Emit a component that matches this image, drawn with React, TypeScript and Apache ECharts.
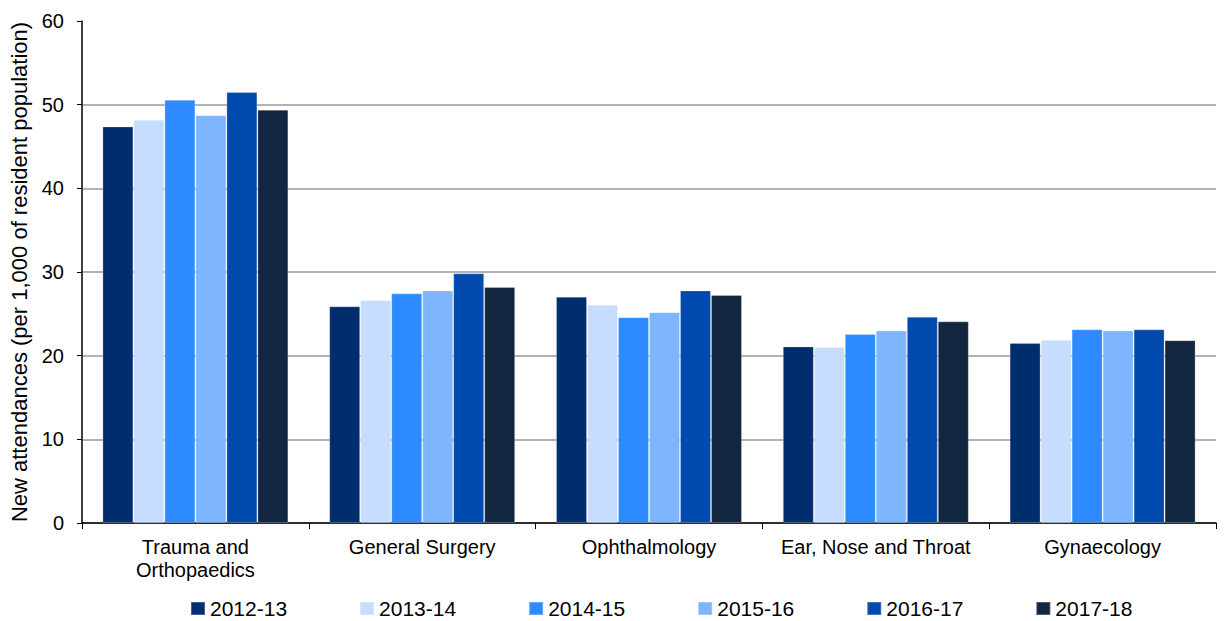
import React, { useEffect, useRef } from "react";
import * as echarts from "echarts";

const categories = ["Trauma and\nOrthopaedics", "General Surgery", "Ophthalmology", "Ear, Nose and Throat", "Gynaecology"];
const years = ["2012-13", "2013-14", "2014-15", "2015-16", "2016-17", "2017-18"];
const colors = ["#002D6E", "#C6DDFF", "#2E8BFF", "#7EB5FF", "#004AAD", "#12263F"];
const v2012 = [47.4, 25.9, 27.05, 21.1, 21.5];
const v2013 = [48.2, 26.65, 26.1, 21.05, 21.9];
const v2014 = [50.6, 27.45, 24.6, 22.6, 23.15];
const v2015 = [48.75, 27.8, 25.2, 23.0, 23.0];
const v2016 = [51.5, 29.85, 27.8, 24.65, 23.15];
const v2017 = [49.4, 28.2, 27.25, 24.1, 21.85];
const seriesValues = [v2012, v2013, v2014, v2015, v2016, v2017];
const yTicks = [0, 10, 20, 30, 40, 50, 60];

const FONT = "Liberation Sans, Arial, sans-serif";

export default function App() {
  const ref = useRef<HTMLDivElement>(null);
  useEffect(() => {
    const chart = echarts.init(ref.current!, null, { renderer: "svg" });
    chart.setOption({
      animation: false,
      textStyle: { fontFamily: FONT },
      grid: { left: 80, right: 8, top: 21, bottom: 98, containLabel: false },
      legend: {
        top: 598,
        left: 190,
        padding: 0,
        itemWidth: 14,
        itemHeight: 13,
        itemGap: 72,
        icon: "rect",
        textStyle: { fontSize: 21, color: "#000", fontFamily: FONT },
        data: years,
      },
      xAxis: {
        type: "category",
        data: categories,
        axisLine: { lineStyle: { color: "#000", width: 1.5 } },
        axisTick: { show: true, length: 6, lineStyle: { color: "#000" } },
        axisLabel: { fontSize: 20, color: "#000", margin: 12, lineHeight: 23, interval: 0 },
      },
      yAxis: {
        type: "value",
        min: yTicks[0],
        max: yTicks[yTicks.length - 1],
        interval: 10,
        name: "New attendances (per 1,000 of resident population)",
        nameLocation: "middle",
        nameGap: 52,
        nameTextStyle: { fontSize: 22, color: "#000" },
        axisLine: { show: true, lineStyle: { color: "#000", width: 1.5 } },
        axisTick: { show: true, length: 5, lineStyle: { color: "#000" } },
        axisLabel: { fontSize: 20, color: "#000", margin: 18 },
        splitLine: {
          lineStyle: {
            color: ["#999", "#999", "#999", "#999", "#999", "#999", "transparent"],
            width: 1.5,
          },
        },
      },
      series: years.map((y, i) => ({
        name: y,
        type: "bar",
        data: seriesValues[i],
        barGap: "0%",
        barCategoryGap: "18%",
        itemStyle: { color: colors[i], borderColor: "rgba(255,255,255,0.25)", borderWidth: 1 },
      })),
    });
    return () => chart.dispose();
  }, []);
  return <div ref={ref} style={{ width: 1224, height: 621, position: "absolute", left: 0, top: 0 }} />;
}
